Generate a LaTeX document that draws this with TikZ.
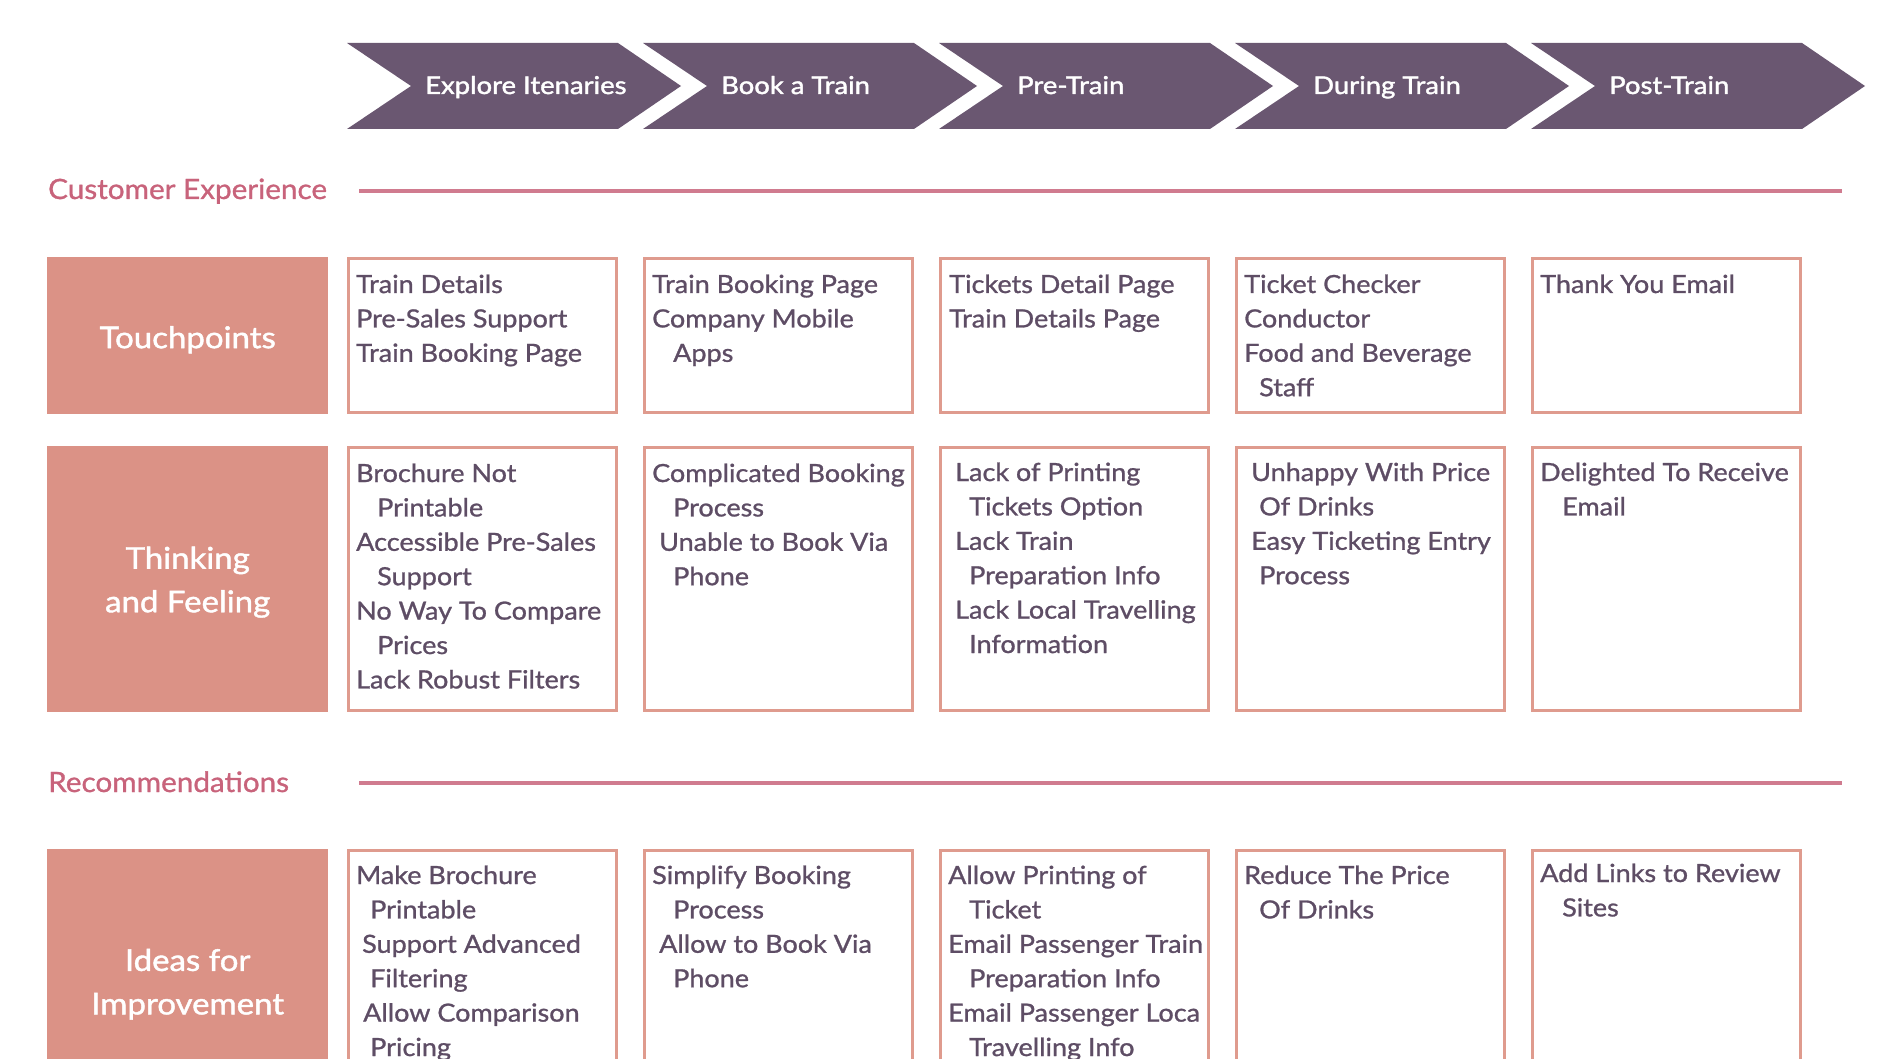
\documentclass[tikz,border=0pt]{standalone}
\usepackage{fontspec}
\setmainfont{Lato}
\newfontfamily\medfont{Lato}[FakeBold=1.0,FakeStretch=1.08]
\newfontfamily\headfont{Lato}[FakeBold=1.0,FakeStretch=1.06]
\newfontfamily\semifont{Lato}[FakeBold=1.6,FakeStretch=1.12]
\newfontfamily\labfont{Lato}[FakeBold=1.4,FakeStretch=1.1]
\definecolor{chevfill}{HTML}{6A5771}
\definecolor{labfill}{HTML}{DB9286}
\definecolor{cellborder}{HTML}{DF9B8E}
\definecolor{headtext}{HTML}{C8637B}
\definecolor{rulecol}{HTML}{D07B8F}
\definecolor{bodytext}{HTML}{5E4D65}
\newcommand\celltext[4]{%
  \foreach \o/\txt [count=\i] in {#4} {%
    \node[item] (#1-\i) at ({#2+\o},{#3+(\i-1)*34.4}) {\txt};}}
\begin{document}
\begin{tikzpicture}[x=1pt,y=-1pt,
  chev/.style={fill=chevfill},
  stagetxt/.style={font=\semifont\fontsize{24.5}{28}\selectfont, text=white, inner sep=0pt, anchor=base west},
  head/.style={font=\headfont\fontsize{28}{32}\selectfont, text=headtext, inner sep=0pt, anchor=base west},
  rulestyle/.style={draw=rulecol, line width=3.5pt},
  lab/.style={fill=labfill, draw=none, anchor=north west, inner sep=0pt, minimum width=281pt},
  labtxt/.style={text=white, align=center, inner sep=0pt, font=\labfont\fontsize{30}{43.5}\selectfont},
  cell/.style={draw=cellborder, line width=3pt, fill=white, anchor=north west, inner sep=0pt, minimum width=268pt},
  item/.style={font=\medfont\fontsize{25}{34}\selectfont, text=bodytext, inner sep=0pt, anchor=base west}
]
\useasboundingbox (0,0) rectangle (1898,1059);
\clip (0,0) rectangle (1898,1059);

% stage chevrons
\foreach \L/\name/\lbl in {347/s1/Explore Itenaries, 643/s2/Book a Train, 939/s3/Pre-Train, 1235/s4/During Train, 1531/s5/Post-Train} {
  \fill[chev] (\L,43) -- ({\L+271},43) -- ({\L+334},86) -- ({\L+271},129) -- (\L,129) -- ({\L+64},86) -- cycle;
  \node[stagetxt] (\name) at ({\L+78},94) {\lbl};
}

% section headers
\node[head] (hce) at (48,199) {Customer Experience};
\coordinate (hce-a) at (359,191);
\coordinate (hce-b) at (1842,191);
\draw[rulestyle] (hce-a) -- (hce-b);

\node[head] (hrec) at (48,792) {Recommendations};
\coordinate (hrec-a) at (359,783);
\coordinate (hrec-b) at (1842,783);
\draw[rulestyle] (hrec-a) -- (hrec-b);

% row labels
\node[lab, minimum height=157pt] (ltp) at (47,257) {};
\node[lab, minimum height=266pt] (ltf) at (47,446) {};
\node[lab, minimum height=264pt] (lid) at (47,849) {};
\node[labtxt] (ltp-t) at ([yshift=-4pt]ltp.center) {Touchpoints};
\node[labtxt] (ltf-t) at ([yshift=-3pt]ltf.center) {Thinking\\and Feeling};
\node[labtxt] (lid-t) at ([yshift=-3pt]lid.center) {Ideas for\\Improvement};

% cells
\foreach \X [count=\k] in {347,643,939,1235,1531} {
  \node[cell, minimum height=154pt] (ca\k) at (\X,257) {};
  \node[cell, minimum height=263pt] (cb\k) at (\X,446) {};
  \node[cell, minimum height=263pt] (cc\k) at (\X,849) {};
}

% row 1 texts
\celltext{ta1}{347}{293}{9/Train Details, 9/Pre-Sales Support, 9/Train Booking Page}
\celltext{ta2}{643}{293}{9/Train Booking Page, 9/Company Mobile, 30/Apps}
\celltext{ta3}{939}{293}{10/Tickets Detail Page, 10/Train Details Page}
\celltext{ta4}{1235}{293}{9/Ticket Checker, 9/Conductor, 9/Food and Beverage, 24/Staff}
\celltext{ta5}{1531}{293}{9/Thank You Email}

% row 2 texts
\celltext{tb1}{347}{482}{9/Brochure Not, 30/Printable, 9/Accessible Pre-Sales, 30/Support, 9/No Way To Compare, 30/Prices, 9/Lack Robust Filters}
\celltext{tb2}{643}{482}{9/Complicated Booking, 30/Process, 16/Unable to Book Via, 30/Phone}
\celltext{tb3}{939}{481}{16/Lack of Printing, 30/Tickets Option, 16/Lack Train, 30/Preparation Info, 16/Lack Local Travelling, 30/Information}
\celltext{tb4}{1235}{481}{16/Unhappy With Price, 24/Of Drinks, 16/Easy Ticketing Entry, 24/Process}
\celltext{tb5}{1531}{481}{9/Delighted To Receive, 31/Email}

% row 3 texts
\celltext{tc1}{347}{884}{9/Make Brochure, 23/Printable, 15/Support Advanced, 23/Filtering, 16/Allow Comparison, 23/Pricing}
\celltext{tc2}{643}{884}{9/Simplify Booking, 30/Process, 16/Allow to Book Via, 30/Phone}
\celltext{tc3}{939}{884}{9/Allow Printing of, 30/Ticket, 9/Email Passenger Train, 30/Preparation Info, 9/Email Passenger Loca, 30/Travelling Info}
\celltext{tc4}{1235}{884}{9/Reduce The Price, 24/Of Drinks}
\celltext{tc5}{1531}{882}{9/Add Links to Review, 31/Sites}
\end{tikzpicture}
\end{document}
